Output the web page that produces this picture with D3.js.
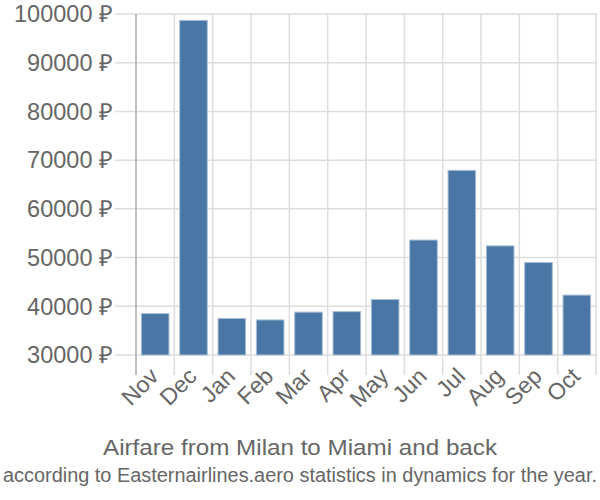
<!DOCTYPE html>
<html><head><meta charset="utf-8">
<script src="https://cdn.jsdelivr.net/npm/d3@7"></script>
<style>body{margin:0;background:#fff}svg{display:block}</style>
</head><body>
<script>
const months = ["Nov","Dec","Jan","Feb","Mar","Apr","May","Jun","Jul","Aug","Sep","Oct"];
const prices = [38500,98700,37500,37200,38800,38900,41400,53600,67900,52400,49000,42300];
const yTicks = [30000,40000,50000,60000,70000,80000,90000,100000];
const title = "Airfare from Milan to Miami and back";
const subtitle = "according to Easternairlines.aero statistics in dynamics for the year.";

const W = 600, H = 500;
const m = {left:136, right:4, top:14, bottom:145};
const svg = d3.select("body").append("svg").attr("width",W).attr("height",H);
const x = d3.scaleBand().domain(months).range([m.left, W-m.right]).paddingInner(0.28).paddingOuter(0.14);
const xg = d3.scaleBand().domain(months).range([m.left, W-m.right]);
const y = d3.scaleLinear().domain([30000,100000]).range([H-m.bottom, m.top]);
const font = "'Liberation Sans', Arial, sans-serif";

// horizontal grid
svg.append("g").selectAll("line").data(yTicks).join("line")
  .attr("x1", 115).attr("x2", W-3).attr("y1", d=>y(d)).attr("y2", d=>y(d))
  .attr("stroke","#ddd").attr("stroke-width",1.5);
// vertical grid
svg.append("g").selectAll("line").data(months.slice(1).concat(["end"])).join("line")
  .attr("x1", (d,i)=> i<11 ? xg(d) : W-m.right).attr("x2",(d,i)=> i<11 ? xg(d) : W-m.right)
  .attr("y1", m.top).attr("y2", H-m.bottom+20)
  .attr("stroke","#ddd").attr("stroke-width",1.5);
// y axis line
svg.append("line").attr("x1",m.left).attr("x2",m.left).attr("y1",m.top).attr("y2",H-m.bottom+20)
  .attr("stroke","#aaa").attr("stroke-width",1.5);

// y labels
svg.append("g").selectAll("text").data(yTicks).join("text")
  .attr("x",113).attr("y",d=>y(d)).attr("dy","0.35em").attr("text-anchor","end")
  .attr("font-family",font).attr("font-size",23.5).attr("fill","#666")
  .text(d=>d+" ₽");

// bars
svg.append("g").selectAll("rect").data(prices).join("rect")
  .attr("x",(d,i)=>x(months[i])).attr("width",x.bandwidth())
  .attr("y",d=>y(d)).attr("height",d=>y(30000)-y(d))
  .attr("fill","#4a76a6").attr("stroke","#a9bfd6").attr("stroke-width",1);

// x labels
svg.append("g").selectAll("text").data(months).join("text")
  .attr("transform",d=>`translate(${xg(d)+xg.bandwidth()/2-1},${H-m.bottom+17}) rotate(-45)`)
  .attr("text-anchor","end").attr("dy","0.35em")
  .attr("font-family",font).attr("font-size",23).attr("fill","#666")
  .text(d=>d);

svg.append("text").attr("x",W/2).attr("y",455).attr("text-anchor","middle")
  .attr("font-family",font).attr("font-size",22).attr("fill","#666")
  .attr("textLength",394).attr("lengthAdjust","spacingAndGlyphs").text(title);
svg.append("text").attr("x",W/2).attr("y",482).attr("text-anchor","middle")
  .attr("font-family",font).attr("font-size",20).attr("fill","#666")
  .attr("textLength",594).attr("lengthAdjust","spacingAndGlyphs").text(subtitle);
</script>
</body></html>
